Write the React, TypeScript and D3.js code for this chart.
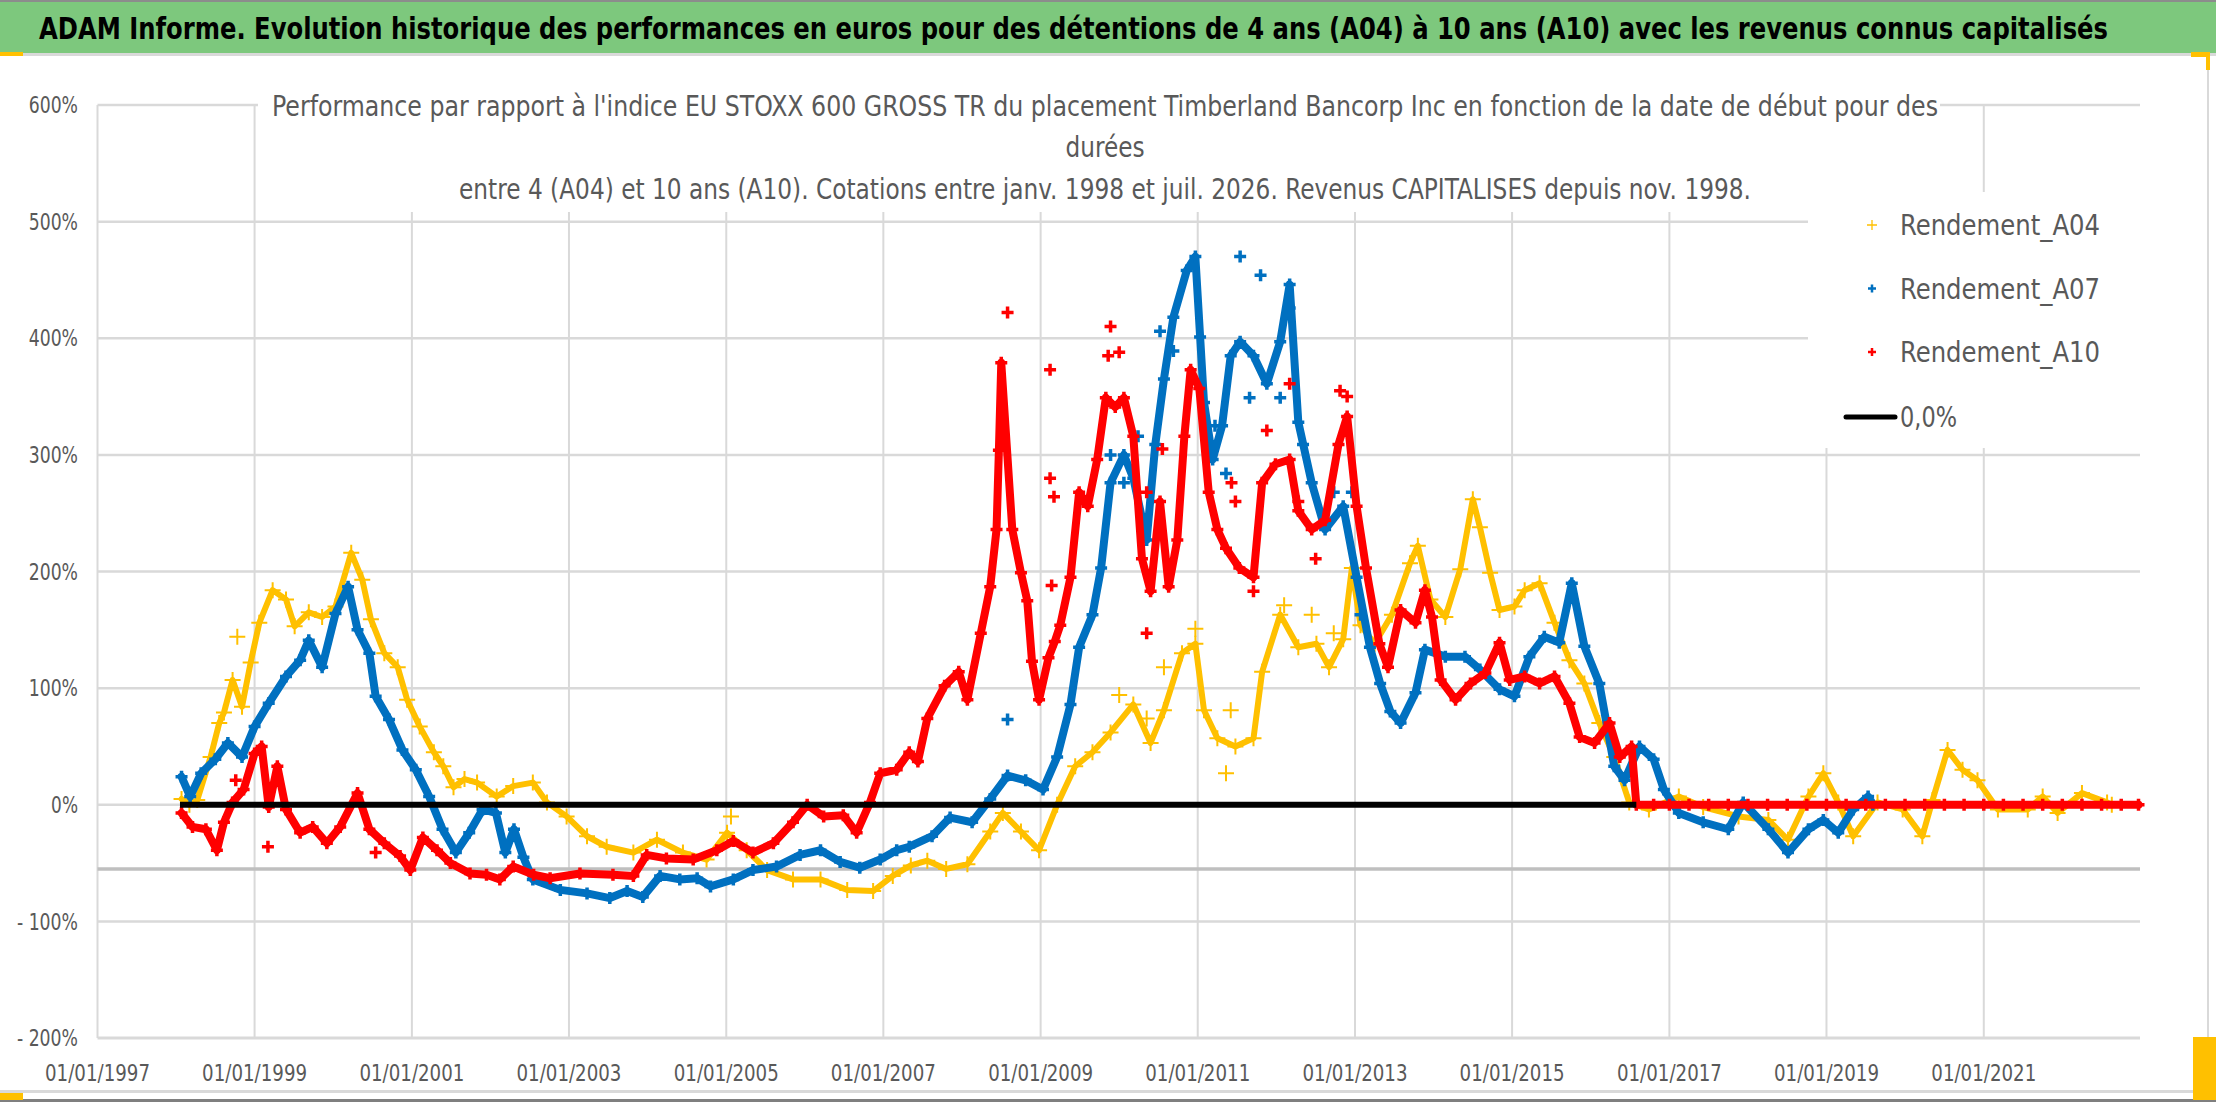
import * as d3 from 'd3';

const W = 2216;
const H = 1102;

// readings: [decimal year of start date, performance in %]
const a04: [number, number][] = [
  [1998.07, 5], [1998.17, 0], [1998.27, 4], [1998.44, 41], [1998.55, 70], [1998.61, 79], [1998.72, 107],
  [1998.84, 84], [1998.95, 122], [1999.06, 156], [1999.23, 184], [1999.40, 176], [1999.51, 153],
  [1999.69, 165], [1999.86, 161], [2000.03, 170], [2000.23, 216], [2000.37, 193], [2000.48, 159],
  [2000.65, 130], [2000.82, 118], [2000.94, 90], [2001.10, 67], [2001.28, 45], [2001.40, 33],
  [2001.53, 15], [2001.67, 22], [2001.83, 19], [2002.08, 7], [2002.29, 16], [2002.54, 19],
  [2002.72, 2], [2002.97, -10], [2003.23, -27], [2003.48, -36], [2003.82, -41], [2004.12, -30],
  [2004.45, -41], [2004.75, -47], [2005.01, -24], [2005.26, -39], [2005.52, -56], [2005.85, -64],
  [2006.20, -64], [2006.54, -73], [2006.87, -74], [2007.12, -61], [2007.35, -52], [2007.56, -48],
  [2007.8, -55], [2008.07, -51], [2008.36, -23], [2008.52, -7], [2008.75, -23], [2008.98, -39],
  [2009.21, 0], [2009.44, 33], [2009.66, 45], [2009.89, 62], [2010.18, 86], [2010.40, 53],
  [2010.57, 81], [2010.80, 130], [2010.97, 138], [2011.08, 81], [2011.25, 57], [2011.48, 50],
  [2011.71, 57], [2011.82, 114], [2012.05, 163], [2012.28, 135], [2012.51, 138], [2012.67, 118],
  [2012.85, 142], [2012.96, 203], [2013.07, 154], [2013.25, 138], [2013.47, 163], [2013.70, 207],
  [2013.80, 222], [2013.96, 176], [2014.15, 161], [2014.34, 202], [2014.50, 262], [2014.59, 238],
  [2014.72, 199], [2014.84, 167], [2015.03, 170], [2015.16, 184], [2015.35, 190], [2015.54, 156],
  [2015.73, 124], [2015.92, 104], [2016.11, 70], [2016.30, 41], [2016.49, 2], [2016.74, -4],
  [2017.12, 7], [2017.43, -2], [2017.88, -10], [2018.26, -13], [2018.51, -30], [2018.77, 7],
  [2018.96, 27], [2019.15, 2], [2019.34, -27], [2019.65, 2], [2019.97, -4], [2020.22, -27],
  [2020.35, 4], [2020.54, 47], [2020.73, 30], [2020.92, 21], [2021.18, -4], [2021.56, -4],
  [2021.75, 7], [2021.94, -7], [2022.25, 10], [2022.57, 2], [2022.63, 0],
];

const a07: [number, number][] = [
  [1998.07, 24], [1998.18, 7], [1998.32, 27], [1998.50, 39], [1998.66, 53], [1998.84, 41],
  [1999.00, 67], [1999.18, 87], [1999.40, 110], [1999.58, 124], [1999.69, 141], [1999.86, 118],
  [2000.03, 164], [2000.19, 187], [2000.31, 150], [2000.46, 130], [2000.54, 93], [2000.71, 73],
  [2000.88, 47], [2001.05, 30], [2001.22, 7], [2001.39, -21], [2001.56, -41], [2001.73, -24],
  [2001.90, -4], [2002.07, -7], [2002.19, -41], [2002.30, -21], [2002.42, -45], [2002.54, -64],
  [2002.89, -73], [2003.23, -76], [2003.52, -80], [2003.74, -74], [2003.94, -79], [2004.16, -61],
  [2004.41, -64], [2004.63, -63], [2004.80, -70], [2005.09, -64], [2005.34, -56], [2005.64, -53],
  [2005.94, -43], [2006.20, -39], [2006.45, -49], [2006.70, -54], [2006.96, -47], [2007.17, -39],
  [2007.33, -36], [2007.62, -27], [2007.85, -11], [2008.13, -15], [2008.36, 5], [2008.58, 25],
  [2008.81, 21], [2009.03, 13], [2009.21, 41], [2009.38, 86], [2009.49, 135], [2009.66, 163],
  [2009.77, 203], [2009.89, 276], [2010.06, 300], [2010.18, 280], [2010.35, 227], [2010.46, 309],
  [2010.57, 365], [2010.69, 418], [2010.86, 458], [2010.97, 470], [2011.08, 345], [2011.19, 296],
  [2011.31, 325], [2011.42, 385], [2011.54, 397], [2011.71, 385], [2011.88, 361], [2012.05, 397],
  [2012.17, 446], [2012.28, 328], [2012.45, 276], [2012.62, 236], [2012.85, 256], [2013.02, 195],
  [2013.19, 135], [2013.32, 104], [2013.45, 80], [2013.58, 70], [2013.77, 96], [2013.89, 133],
  [2014.15, 127], [2014.40, 127], [2014.59, 116], [2014.84, 99], [2015.03, 93], [2015.22, 127],
  [2015.41, 144], [2015.60, 139], [2015.76, 190], [2015.92, 136], [2016.11, 104], [2016.30, 33],
  [2016.43, 21], [2016.62, 50], [2016.80, 39], [2016.93, 13], [2017.12, -7], [2017.43, -15],
  [2017.75, -21], [2017.94, 2], [2018.26, -21], [2018.51, -41], [2018.77, -21], [2018.96, -13],
  [2019.15, -24], [2019.34, -4], [2019.53, 7], [2019.59, 0],
];

const a10: [number, number][] = [
  [1998.07, -7], [1998.21, -19], [1998.38, -21], [1998.52, -39], [1998.61, -15], [1998.72, 2],
  [1998.86, 13], [1999.00, 44], [1999.09, 50], [1999.18, -2], [1999.29, 33], [1999.40, -4],
  [1999.58, -24], [1999.74, -19], [1999.92, -33], [2000.09, -19], [2000.31, 10], [2000.46, -21],
  [2000.65, -33], [2000.85, -44], [2000.98, -56], [2001.14, -28], [2001.32, -39], [2001.49, -50],
  [2001.74, -59], [2001.95, -60], [2002.12, -64], [2002.29, -53], [2002.55, -60], [2002.76, -63],
  [2003.14, -59], [2003.56, -60], [2003.82, -61], [2003.99, -43], [2004.24, -46], [2004.58, -47],
  [2004.88, -39], [2005.09, -31], [2005.34, -41], [2005.60, -33], [2005.85, -15], [2006.03, 0],
  [2006.24, -10], [2006.49, -9], [2006.66, -24], [2006.83, 2], [2006.96, 27], [2007.17, 30],
  [2007.33, 45], [2007.44, 37], [2007.56, 74], [2007.78, 102], [2007.96, 114], [2008.07, 90],
  [2008.24, 147], [2008.36, 187], [2008.44, 236], [2008.47, 304], [2008.50, 379], [2008.64, 236],
  [2008.75, 199], [2008.83, 175], [2008.89, 123], [2008.98, 90], [2009.10, 126], [2009.18, 140],
  [2009.25, 154], [2009.38, 195], [2009.49, 268], [2009.60, 256], [2009.72, 296], [2009.83, 349],
  [2009.95, 341], [2010.06, 349], [2010.18, 316], [2010.29, 211], [2010.40, 183], [2010.52, 260],
  [2010.63, 187], [2010.74, 227], [2010.83, 316], [2010.91, 373], [2011.02, 357], [2011.14, 268],
  [2011.25, 236], [2011.36, 220], [2011.53, 203], [2011.71, 195], [2011.82, 276], [2011.99, 292],
  [2012.17, 296], [2012.28, 252], [2012.45, 236], [2012.62, 244], [2012.79, 309], [2012.90, 333],
  [2013.02, 256], [2013.14, 203], [2013.31, 138], [2013.42, 118], [2013.58, 167], [2013.77, 156],
  [2013.89, 184], [2013.98, 161], [2014.09, 107], [2014.28, 90], [2014.47, 104], [2014.66, 113],
  [2014.84, 139], [2014.97, 107], [2015.16, 110], [2015.35, 104], [2015.54, 110], [2015.73, 87],
  [2015.86, 58], [2016.05, 53], [2016.24, 70], [2016.37, 41], [2016.52, 50], [2016.58, 0],
  [2016.8, 0], [2017.0, 0], [2017.25, 0], [2017.5, 0], [2017.75, 0], [2018.0, 0], [2018.25, 0],
  [2018.5, 0], [2018.75, 0], [2019.0, 0], [2019.25, 0], [2019.5, 0], [2019.75, 0], [2020.0, 0],
  [2020.25, 0], [2020.5, 0], [2020.75, 0], [2021.0, 0], [2021.25, 0], [2021.5, 0], [2021.75, 0],
  [2022.0, 0], [2022.25, 0], [2022.5, 0], [2022.75, 0], [2022.97, 0],
];

// isolated markers standing away from the main band (scatter clouds)
const a04Isolated: [number, number][] = [
  [1998.78, 144], [2005.06, -10], [2011.36, 27], [2010.0, 94], [2010.35, 74], [2010.57, 118],
  [2010.97, 151], [2011.42, 81], [2012.10, 171], [2012.45, 163], [2012.73, 147],
];
const a07Isolated: [number, number][] = [
  [2008.58, 73], [2011.54, 470], [2011.80, 454], [2009.89, 300], [2010.06, 276], [2010.24, 316],
  [2010.52, 406], [2010.69, 389], [2011.03, 401], [2011.22, 325], [2011.36, 284], [2011.66, 349],
  [2012.05, 349], [2012.17, 426], [2012.34, 309], [2012.73, 268], [2012.96, 268], [2013.07, 163],
];
const a10Isolated: [number, number][] = [
  [1998.76, 21], [1999.17, -36], [2000.54, -41], [2008.58, 422], [2009.12, 373], [2009.89, 410],
  [2010.35, 147], [2009.12, 280], [2009.17, 264], [2009.14, 188], [2009.86, 385], [2010.0, 388],
  [2010.55, 305], [2010.35, 268], [2011.43, 276], [2011.48, 260], [2011.71, 183], [2011.88, 321],
  [2012.17, 361], [2012.28, 260], [2012.50, 211], [2012.81, 355], [2012.90, 350],
];

const zeroLine: [number, number][] = [[1998.05, 0], [2016.58, 0]];

const yTicks = [600, 500, 400, 300, 200, 100, 0, -100, -200];
const xTickYears = [1997, 1999, 2001, 2003, 2005, 2007, 2009, 2011, 2013, 2015, 2017, 2019, 2021];
const axisCrossValue = -55;

const mainTitle =
  'ADAM Informe. Evolution historique des performances en euros pour des détentions de 4 ans (A04) à 10 ans (A10) avec les revenus connus capitalisés';
const subTitle = [
  "Performance par rapport à l'indice EU STOXX 600 GROSS TR  du placement Timberland Bancorp Inc en fonction de la date de début pour des",
  'durées',
  'entre 4 (A04) et 10 ans (A10). Cotations entre janv. 1998 et juil. 2026. Revenus CAPITALISES depuis nov. 1998.',
];

const FONT = '"Liberation Sans Narrow", "DejaVu Sans Condensed", "Open Sans", sans-serif';
const GREY = '#595959';

const toDate = (y: number) => {
  const yr = Math.floor(y);
  const s = Date.UTC(yr, 0, 1);
  const e = Date.UTC(yr + 1, 0, 1);
  return new Date(s + (y - yr) * (e - s));
};

const x = d3.scaleUtc()
  .domain([new Date(Date.UTC(1997, 0, 1)), new Date(Date.UTC(2022, 11, 28))])
  .range([97.5, 2140]);
const y = d3.scaleLinear().domain([-200, 600]).range([1038, 105]);
const fmt = d3.utcFormat('%d/%m/%Y');

const line = d3.line<[number, number]>()
  .x(d => x(toDate(d[0])))
  .y(d => y(d[1]));

const plus = (s: number) => `M${-s},0H${s}M0,${-s}V${s}`;

const yLabel = (t: number) => (t < 0 ? `- ${Math.abs(t)}%` : `${t}%`);
// approximate width of the narrow label font
const yLabelWidth = (t: number) => String(Math.abs(t)).length * 11.2 + 15.7 + (t < 0 ? 11.8 : 0);

interface SeriesStyle {
  data: [number, number][];
  isolated: [number, number][];
  color: string;
  size: number;
  width: number;
  lineWidth: number;
}

const series: SeriesStyle[] = [
  { data: a04, isolated: a04Isolated, color: '#FFC000', size: 8, width: 2, lineWidth: 6 },
  { data: a07, isolated: a07Isolated, color: '#0070C0', size: 6, width: 3.5, lineWidth: 8 },
  { data: a10, isolated: a10Isolated, color: '#FF0000', size: 6, width: 3.5, lineWidth: 8 },
];

const legendItems = [
  { name: 'Rendement_A04', color: '#FFC000', size: 5, width: 1.3 },
  { name: 'Rendement_A07', color: '#0070C0', size: 4, width: 2.5 },
  { name: 'Rendement_A10', color: '#FF0000', size: 4, width: 2.5 },
];

const Series = ({ s }: { s: SeriesStyle }) => (
  <g>
    <path d={line(s.data) ?? ''} fill="none" stroke={s.color} strokeWidth={s.lineWidth}
      strokeLinejoin="round" strokeLinecap="round" />
    {[...s.data, ...s.isolated].map((d, i) => (
      <path key={i} d={plus(s.size)} transform={`translate(${x(toDate(d[0]))},${y(d[1])})`}
        stroke={s.color} strokeWidth={s.width} fill="none" />
    ))}
  </g>
);

export default function App() {
  const xLeft = x.range()[0];
  const xRight = x.range()[1];
  return (
    <svg width={W} height={H} viewBox={`0 0 ${W} ${H}`}
      style={{ position: 'absolute', left: 0, top: 0, display: 'block', background: '#fff' }}>
      {/* banner */}
      <rect x={0} y={0} width={W} height={2} fill="#8c8c8c" />
      <rect x={0} y={2} width={W} height={51} fill="#7dc87d" />
      <text transform="translate(1073.5,39) scale(1,1.25)" textAnchor="middle" fontFamily={FONT}
        fontWeight="bold" fontSize={24} fill="#000" textLength={2069}
        lengthAdjust="spacingAndGlyphs">{mainTitle}</text>
      <rect x={0} y={53} width={W} height={3} fill="#d9d9d9" />

      {/* chart area frame */}
      <line x1={2208} x2={2208} y1={56} y2={1093} stroke="#d9d9d9" strokeWidth={2} />
      <rect x={0} y={1090} width={2208} height={3} fill="#d9d9d9" />
      <rect x={0} y={1099} width={W} height={3} fill="#7f7f7f" />

      {/* gridlines */}
      {xTickYears.map(yr => {
        const px = x(new Date(Date.UTC(yr, 0, 1)));
        return <line key={yr} x1={px} x2={px} y1={y(600)} y2={y(-200)} stroke="#d9d9d9" strokeWidth={2} />;
      })}
      {yTicks.map(t => (
        <line key={t} x1={xLeft} x2={xRight} y1={y(t)} y2={y(t)} stroke="#d9d9d9" strokeWidth={t === -200 ? 3 : 2.5} />
      ))}
      <line x1={xLeft} x2={xRight} y1={y(axisCrossValue)} y2={y(axisCrossValue)} stroke="#bfbfbf" strokeWidth={3.5} />

      {/* y labels */}
      {yTicks.map(t => (
        <text key={t} transform={`translate(78,${y(t)}) scale(1,1.08)`} dy="0.36em" textAnchor="end"
          fontFamily={FONT} fontSize={21} fill={GREY} textLength={yLabelWidth(t)}
          lengthAdjust="spacingAndGlyphs">{yLabel(t)}</text>
      ))}

      {/* x labels */}
      {xTickYears.map(yr => {
        const dt = new Date(Date.UTC(yr, 0, 1));
        return (
          <text key={yr} transform={`translate(${x(dt)},1081) scale(1,1.08)`} textAnchor="middle"
            fontFamily={FONT} fontSize={21} fill={GREY} textLength={105}
            lengthAdjust="spacingAndGlyphs">{fmt(dt)}</text>
        );
      })}

      {/* chart title box */}
      <rect x={258} y={88} width={1682} height={124} fill="#fff" />
      <text transform="translate(1105,116) scale(1,1.1)" textAnchor="middle" fontFamily={FONT} fontSize={25}
        fill={GREY} textLength={1666} lengthAdjust="spacingAndGlyphs">{subTitle[0]}</text>
      <text transform="translate(1105,157) scale(1,1.1)" textAnchor="middle" fontFamily={FONT} fontSize={25}
        fill={GREY} textLength={79} lengthAdjust="spacingAndGlyphs">{subTitle[1]}</text>
      <text transform="translate(1105,199) scale(1,1.1)" textAnchor="middle" fontFamily={FONT} fontSize={25}
        fill={GREY} textLength={1292} lengthAdjust="spacingAndGlyphs">{subTitle[2]}</text>

      {/* data */}
      {series.map((s, i) => <Series key={i} s={s} />)}
      <path d={line(zeroLine) ?? ''} stroke="#000" strokeWidth={6} fill="none" />

      {/* legend */}
      <rect x={1808} y={192} width={332} height={256} fill="#fff" />
      {legendItems.map((l, i) => {
        const ly = 225 + i * 63.5;
        return (
          <g key={l.name}>
            <path d={plus(l.size)} transform={`translate(1872,${ly})`} stroke={l.color} strokeWidth={l.width} fill="none" />
            <text transform={`translate(1900,${ly}) scale(1,1.1)`} dy="0.36em" fontFamily={FONT} fontSize={26}
              fill={GREY} textLength={200} lengthAdjust="spacingAndGlyphs">{l.name}</text>
          </g>
        );
      })}
      <line x1={1846} x2={1895} y1={417} y2={417} stroke="#000" strokeWidth={5} strokeLinecap="round" />
      <text transform="translate(1900,417) scale(1,1.1)" dy="0.36em" fontFamily={FONT} fontSize={26}
        fill={GREY} textLength={57} lengthAdjust="spacingAndGlyphs">0,0%</text>

      {/* selection handles */}
      <rect x={0} y={52} width={23} height={4} fill="#ffc000" />
      <rect x={2191} y={52} width={19} height={5} fill="#ffc000" />
      <rect x={2206} y={52} width={4} height={18} fill="#ffc000" />
      <rect x={0} y={1093} width={23} height={7} fill="#ffc000" />
      <rect x={2193} y={1037} width={23} height={63} fill="#ffc000" />
    </svg>
  );
}
